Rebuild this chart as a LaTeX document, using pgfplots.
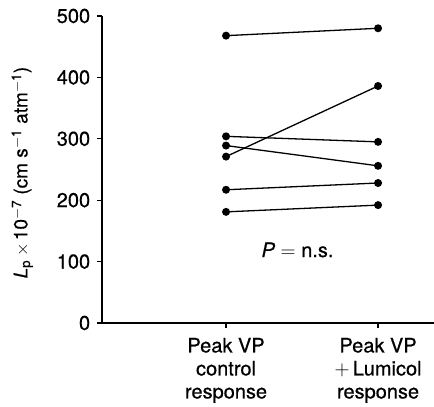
\documentclass[border=0pt]{standalone}
\usepackage{fontspec}
\setmainfont[FakeBold=0.6,BoldFont={TeX Gyre Heros},AutoFakeBold=0]{TeX Gyre Heros}
\usepackage{pgfplots}
\pgfplotsset{compat=1.18}
\begin{document}
\fontsize{20}{23}\selectfont
\begin{tikzpicture}[x=1pt,y=1pt]
\begin{axis}[
  at={(102pt,84pt)}, anchor=south west,
  scale only axis, width=332pt, height=307pt,
  xmin=0.184, xmax=2.368, ymin=0, ymax=500,
  axis x line=bottom, axis y line=left,
  axis line style={-, line width=1.5pt},
  xtick={1,2},
  xticklabels={{Peak VP\\control\\response},{Peak VP\\$+$\,Lumicol\\response}},
  xticklabel style={align=center, font=\fontsize{20}{23}\selectfont, yshift=-3pt},
  ytick={0,100,200,300,400,500},
  yticklabel style={font=\fontsize{20}{23}\selectfont},
  /pgf/number format/assume math mode=true,
  tick align=outside, major tick length=5pt,
  tick style={black, line width=1.3pt},
  ylabel={\textit{L}\textsubscript{p}\,$\times$\,10\textsuperscript{$-$7} (cm s\textsuperscript{$-$1} atm\textsuperscript{$-$1})},
  ylabel style={at={(axis description cs:-0.24,0.49)}, anchor=center, font=\fontsize{19}{23}\selectfont},
  clip=false,
]
\addplot[black, solid, line width=1.3pt, mark=*, mark size=3.3pt, mark options={solid, fill=black}] coordinates {(1,468) (2,480)};
\addplot[black, solid, line width=1.3pt, mark=*, mark size=3.3pt, mark options={solid, fill=black}] coordinates {(1,271) (2,386)};
\addplot[black, solid, line width=1.3pt, mark=*, mark size=3.3pt, mark options={solid, fill=black}] coordinates {(1,304) (2,295)};
\addplot[black, solid, line width=1.3pt, mark=*, mark size=3.3pt, mark options={solid, fill=black}] coordinates {(1,289) (2,256)};
\addplot[black, solid, line width=1.3pt, mark=*, mark size=3.3pt, mark options={solid, fill=black}] coordinates {(1,217) (2,228)};
\addplot[black, solid, line width=1.3pt, mark=*, mark size=3.3pt, mark options={solid, fill=black}] coordinates {(1,181) (2,192)};
\node[font=\fontsize{20}{23}\selectfont] at (axis cs:1.47,119) {\textit{P} $=$ n.s.};
\end{axis}
\pgfresetboundingbox
\useasboundingbox (0,0) rectangle (434,407);
\end{tikzpicture}
\end{document}
